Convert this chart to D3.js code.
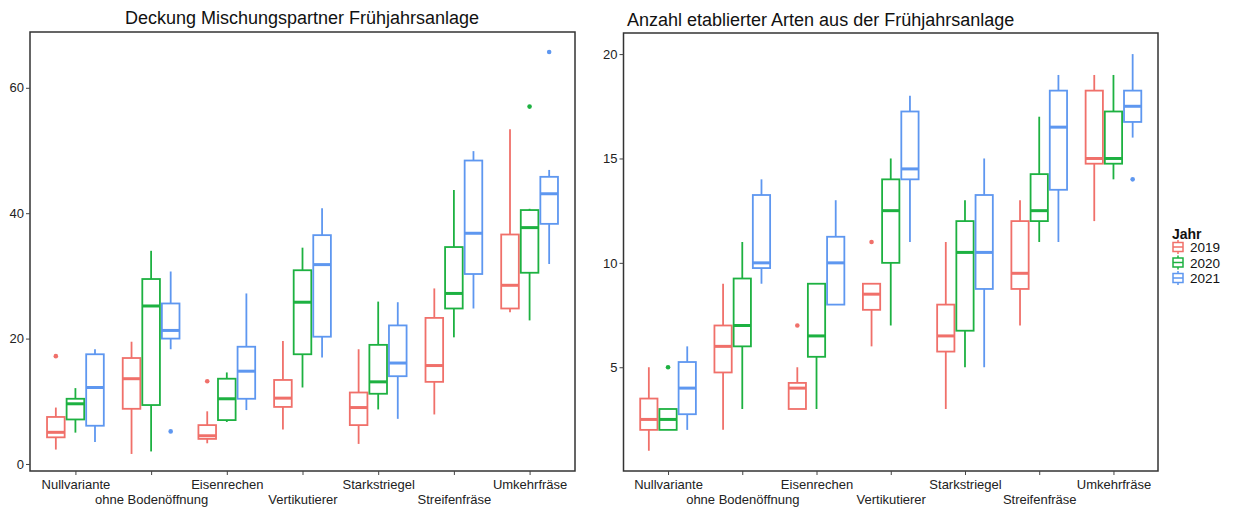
<!DOCTYPE html>
<html>
<head>
<meta charset="utf-8">
<script src="https://cdn.jsdelivr.net/npm/d3@7"></script>
<style>
  body { margin: 0; background: #fff; }
  text { font-family: "Liberation Sans", Arial, sans-serif; }
</style>
</head>
<body>
<script>
const width = 1235;
const height = 508;

const categories = ["Nullvariante", "ohne Bodenöffnung", "Eisenrechen", "Vertikutierer",
    "Starkstriegel", "Streifenfräse", "Umkehrfräse"];
const years = ["2019", "2020", "2021"];
const colors = ["#F0706A", "#1DB141", "#5E97F0"];

// Deckung: [unterer Whisker, Q1, Median, Q3, oberer Whisker] je Variante
const deckung2019 = [[2.3, 4.25, 5.05, 7.5, 9.0], [1.6, 8.8, 13.6, 16.9, 19.5], [3.3, 4.0, 4.5, 6.2, 8.4],
    [5.5, 9.1, 10.5, 13.4, 19.6], [3.2, 6.2, 9.0, 11.4, 18.3], [7.9, 13.1, 15.7, 23.3, 28.0],
    [24.2, 24.8, 28.5, 36.6, 53.4]];
const deckung2020 = [[5.0, 7.1, 9.6, 10.4, 12.1], [2.0, 9.4, 25.2, 29.5, 34.0], [6.7, 7.0, 10.4, 13.6, 14.6],
    [12.2, 17.5, 25.8, 30.9, 34.5], [8.7, 11.2, 13.1, 19.0, 25.9], [20.2, 24.8, 27.2, 34.6, 43.7],
    [22.9, 30.5, 37.7, 40.5, 40.7]];
const deckung2021 = [[3.5, 6.1, 12.2, 17.5, 18.3], [18.3, 20.0, 21.3, 25.6, 30.7], [8.6, 10.4, 14.8, 18.7, 27.2],
    [17.0, 20.3, 31.8, 36.5, 40.8], [7.2, 14.0, 16.1, 22.1, 25.8], [24.8, 30.3, 36.8, 48.4, 49.9],
    [31.9, 38.3, 43.1, 45.8, 46.9]];
// Ausreißer: [Variante, Jahr, Wert]
const deckungOutliers = [["Nullvariante", "2019", 17.2], ["Eisenrechen", "2019", 13.2],
    ["Umkehrfräse", "2020", 57.0], ["ohne Bodenöffnung", "2021", 5.2], ["Umkehrfräse", "2021", 65.7]];
const deckungTicks = [0, 20, 40, 60];

const arten2019 = [[1, 2, 2.5, 3.5, 5], [2, 4.75, 6, 7, 9], [3, 3, 4, 4.25, 5], [6, 7.75, 8.5, 9, 9],
    [3, 5.75, 6.5, 8, 11], [7, 8.75, 9.5, 12, 13], [12, 14.75, 15, 18.25, 19]];
const arten2020 = [[2, 2, 2.5, 3, 3], [3, 6, 7, 9.25, 11], [3, 5.5, 6.5, 9, 9], [7, 10, 12.5, 14, 15],
    [5, 6.75, 10.5, 12, 13], [11, 12, 12.5, 14.25, 17], [14, 14.75, 15, 17.25, 19]];
const arten2021 = [[2, 2.75, 4, 5.25, 6], [9, 9.75, 10, 13.25, 14], [8, 8, 10, 11.25, 13], [11, 14, 14.5, 17.25, 18],
    [5, 8.75, 10.5, 13.25, 15], [11, 13.5, 16.5, 18.25, 19], [16, 16.75, 17.5, 18.25, 20]];
const artenOutliers = [["Eisenrechen", "2019", 7], ["Vertikutierer", "2019", 11],
    ["Nullvariante", "2020", 5], ["Umkehrfräse", "2021", 14]];
const artenTicks = [5, 10, 15, 20];

let svg = d3.select("body")
    .append("svg")
    .attr("width", width)
    .attr("height", height)
    .style("background", "white");

function toRows(series){
    let rows = [];
    series.forEach((s, j) => s.forEach((v, i) => rows.push({
        cat: categories[i], year: years[j], lo: v[0], q1: v[1], med: v[2], q3: v[3], hi: v[4]
    })));
    return rows;
}

function drawPanel(p){
    let x = d3.scalePoint().domain(categories).range([p.x0, p.x1]).padding(0.6);
    let step = x.step();
    let xYear = d3.scaleBand().domain(years).range([-0.375 * step, 0.375 * step]).paddingInner(0.1);
    let y = d3.scaleLinear().domain(p.yDomain).range([p.y1, p.y0]);
    let color = d3.scaleOrdinal().domain(years).range(colors);
    let bw = xYear.bandwidth();
    let cx = (d) => x(d.cat) + xYear(d.year) + bw / 2;

    let g = svg.append("g");
    let rows = toRows(p.series);

    let boxes = g.selectAll("g.box")
        .data(rows)
        .enter()
        .append("g")
        .attr("class", "box")
        .attr("stroke", (d) => color(d.year))
        .attr("fill", "none");

    boxes.append("line")
        .attr("x1", cx).attr("x2", cx)
        .attr("y1", (d) => y(d.hi)).attr("y2", (d) => y(d.q3))
        .attr("stroke-width", 1.8);
    boxes.append("line")
        .attr("x1", cx).attr("x2", cx)
        .attr("y1", (d) => y(d.q1)).attr("y2", (d) => y(d.lo))
        .attr("stroke-width", 1.8);
    boxes.append("rect")
        .attr("x", (d) => cx(d) - bw / 2)
        .attr("width", bw)
        .attr("y", (d) => y(d.q3))
        .attr("height", (d) => y(d.q1) - y(d.q3))
        .attr("fill", "white")
        .attr("stroke-width", 1.8);
    boxes.append("line")
        .attr("x1", (d) => cx(d) - bw / 2).attr("x2", (d) => cx(d) + bw / 2)
        .attr("y1", (d) => y(d.med)).attr("y2", (d) => y(d.med))
        .attr("stroke-width", 3);

    g.selectAll("circle")
        .data(p.outliers)
        .enter()
        .append("circle")
        .attr("cx", (d) => x(d[0]) + xYear(d[1]) + bw / 2)
        .attr("cy", (d) => y(d[2]))
        .attr("r", 2.3)
        .attr("fill", (d) => color(d[1]));

    // Rahmen
    svg.append("rect")
        .attr("x", p.x0).attr("y", p.y0)
        .attr("width", p.x1 - p.x0).attr("height", p.y1 - p.y0)
        .attr("fill", "none")
        .attr("stroke", "#333")
        .attr("stroke-width", 1.5);

    let yAxis = svg.append("g")
        .attr("transform", "translate(" + p.x0 + ",0)")
        .call(d3.axisLeft(y).tickValues(p.ticks).tickSize(4).tickPadding(2));
    yAxis.select(".domain").remove();
    yAxis.selectAll("line").attr("stroke", "#444");
    yAxis.selectAll("text").attr("font-size", 13).attr("fill", "#222")
        .style("font-family", "Liberation Sans, Arial, sans-serif");

    let xAxis = svg.append("g")
        .attr("transform", "translate(0," + p.y1 + ")")
        .call(d3.axisBottom(x).tickSize(4).tickPadding(4));
    xAxis.select(".domain").remove();
    xAxis.selectAll("line").attr("stroke", "#444");
    xAxis.selectAll("text").attr("font-size", 13).attr("fill", "#222")
        .style("font-family", "Liberation Sans, Arial, sans-serif")
        .attr("dy", (d, i) => i % 2 ? "1.95em" : "0.8em");

    svg.append("text")
        .attr("x", p.titleX)
        .attr("y", p.titleY)
        .attr("text-anchor", p.titleAnchor)
        .attr("font-size", 18)
        .attr("fill", "#111")
        .text(p.title);
}

drawPanel({
    x0: 30, x1: 575, y0: 32, y1: 471,
    yDomain: [-1.12, 68.9],
    ticks: deckungTicks,
    series: [deckung2019, deckung2020, deckung2021],
    outliers: deckungOutliers,
    title: "Deckung Mischungspartner Frühjahrsanlage",
    titleX: 302, titleY: 24, titleAnchor: "middle"
});

drawPanel({
    x0: 623.5, x1: 1158, y0: 33, y1: 471,
    yDomain: [0.03, 21.01],
    ticks: artenTicks,
    series: [arten2019, arten2020, arten2021],
    outliers: artenOutliers,
    title: "Anzahl etablierter Arten aus der Frühjahrsanlage",
    titleX: 627, titleY: 26, titleAnchor: "start"
});

// Legende
let legend = svg.append("g").attr("transform", "translate(1172,0)");
legend.append("text")
    .attr("x", 0).attr("y", 239)
    .attr("font-size", 14)
    .attr("font-weight", "bold")
    .attr("fill", "#111")
    .text("Jahr");

let items = legend.selectAll("g.item")
    .data(years)
    .enter()
    .append("g")
    .attr("class", "item")
    .attr("transform", (d, i) => "translate(0," + (247 + i * 15.5) + ")");

items.append("line")
    .attr("x1", 6).attr("x2", 6).attr("y1", -7).attr("y2", 7)
    .attr("stroke", (d, i) => colors[i]).attr("stroke-width", 1.5);
items.append("rect")
    .attr("x", 1).attr("y", -4.5).attr("width", 10).attr("height", 9)
    .attr("fill", "white")
    .attr("stroke", (d, i) => colors[i]).attr("stroke-width", 1.5);
items.append("line")
    .attr("x1", 1).attr("x2", 11).attr("y1", 0).attr("y2", 0)
    .attr("stroke", (d, i) => colors[i]).attr("stroke-width", 1.5);
items.append("text")
    .attr("x", 18).attr("y", 5)
    .attr("font-size", 13.5)
    .attr("fill", "#111")
    .text((d) => d);
</script>
</body>
</html>
